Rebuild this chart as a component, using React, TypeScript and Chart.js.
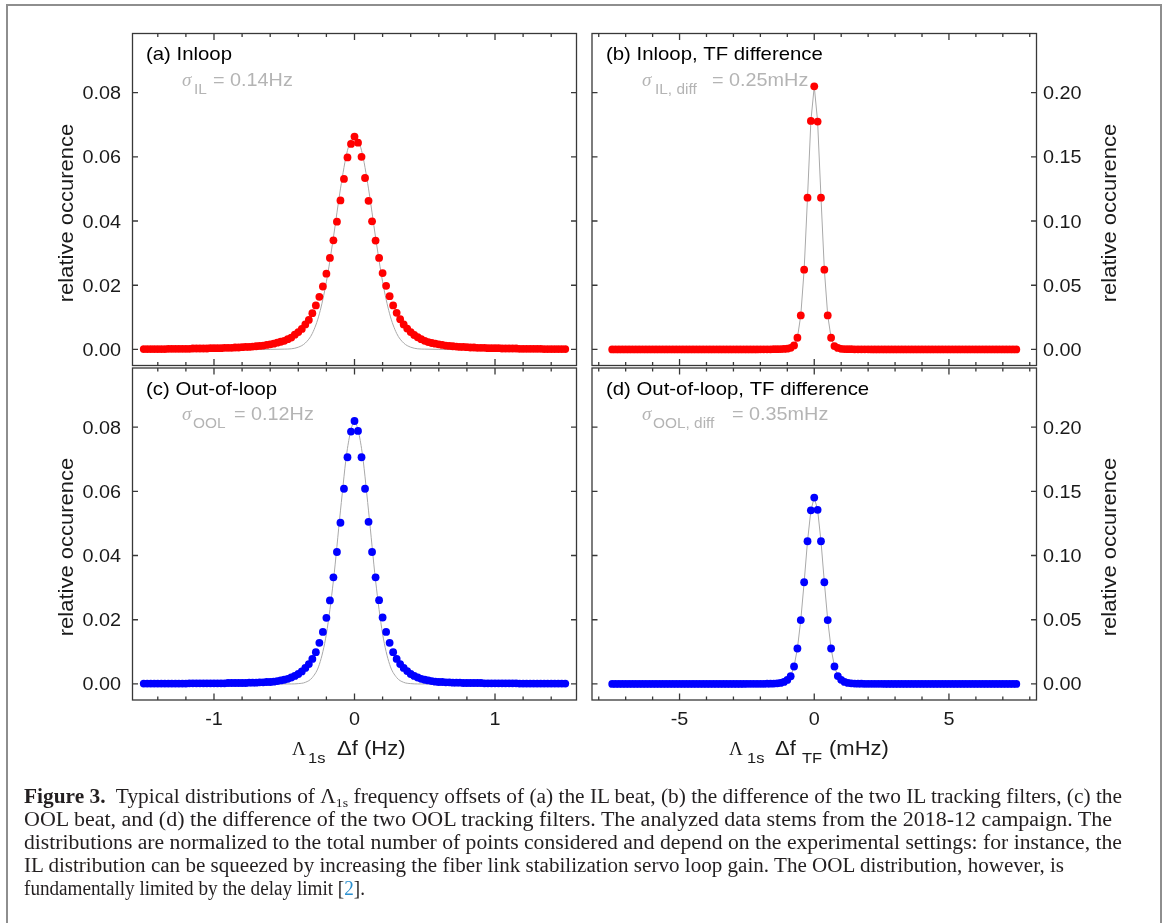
import React, { useEffect, useRef } from 'react';
import { Chart, registerables } from 'chart.js';

Chart.register(...registerables);

// ---------- histogram bin centres ----------
const binsHz = Array.from({ length: 121 }, (_, i) => -1.5 + i * 0.025);
const binsMHz = Array.from({ length: 121 }, (_, i) => -7.5 + i * 0.125);

// ---------- relative occurrence per bin ----------
// (a) inloop beat, bins -1.5 ... 1.5 Hz
const occIL = [
  0.0001, 0.0001, 0.0001, 0.0001, 0.0001, 0.0001, 0.0001, 0.0002, 0.0002, 0.0002,
  0.0002, 0.0002, 0.0002, 0.0002, 0.0003, 0.0003, 0.0003, 0.0003, 0.0003, 0.0004,
  0.0004, 0.0004, 0.0004, 0.0005, 0.0005, 0.0005, 0.0006, 0.0006, 0.0007, 0.0008,
  0.0008, 0.0009, 0.0010, 0.0011, 0.0012, 0.0014, 0.0016, 0.0018, 0.0021, 0.0024,
  0.0027, 0.0032, 0.0037, 0.0046, 0.0054, 0.0064, 0.0078, 0.0092, 0.0113, 0.0137,
  0.0164, 0.0196, 0.0236, 0.0285, 0.0340, 0.0398, 0.0464, 0.0531, 0.0598, 0.0640,
  0.0663,
  0.0644, 0.0600, 0.0534, 0.0463, 0.0399, 0.0339, 0.0285, 0.0238, 0.0198, 0.0166,
  0.0137, 0.0114, 0.0094, 0.0078, 0.0065, 0.0054, 0.0045, 0.0038, 0.0032, 0.0027,
  0.0023, 0.0020, 0.0018, 0.0016, 0.0014, 0.0012, 0.0011, 0.0010, 0.0009, 0.0008,
  0.0008, 0.0007, 0.0006, 0.0006, 0.0005, 0.0005, 0.0005, 0.0004, 0.0004, 0.0004,
  0.0004, 0.0003, 0.0003, 0.0003, 0.0003, 0.0003, 0.0002, 0.0002, 0.0002, 0.0002,
  0.0002, 0.0002, 0.0002, 0.0001, 0.0001, 0.0001, 0.0001, 0.0001, 0.0001, 0.0001,
];

// (b) inloop tracking-filter difference, bins -7.5 ... 7.5 mHz
const occILDiff = [
  0, 0, 0, 0, 0, 0, 0, 0,
  0, 0, 0, 0, 0, 0, 0, 0,
  0, 0, 0, 0, 0, 0, 0, 0,
  0, 0, 0, 0, 0, 0, 0, 0,
  0, 0, 0, 0, 0, 0, 0, 0,
  0, 0, 0, 0, 0.0001, 0.0001, 0.0001, 0.0001,
  0.0002, 0.0002, 0.0003, 0.0004, 0.0006, 0.0013, 0.0031, 0.0091,
  0.0265, 0.0621, 0.1182, 0.1779,
  0.2049,
  0.1774, 0.1182, 0.0621, 0.0265,
  0.0091, 0.0026, 0.0012, 0.0005, 0.0003, 0.0002, 0.0002, 0.0001,
  0.0001, 0.0001, 0.0001, 0.0001, 0, 0, 0, 0,
  0, 0, 0, 0, 0, 0, 0, 0,
  0, 0, 0, 0, 0, 0, 0, 0,
  0, 0, 0, 0, 0, 0, 0, 0,
  0, 0, 0, 0, 0, 0, 0, 0,
  0, 0, 0, 0, 0, 0, 0, 0,
];

// (c) out-of-loop beat, bins -1.5 ... 1.5 Hz
const occOOL = [
  0.0001, 0.0001, 0.0001, 0.0001, 0.0001, 0.0001, 0.0001, 0.0001, 0.0001, 0.0001,
  0.0001, 0.0001, 0.0001, 0.0002, 0.0002, 0.0002, 0.0002, 0.0002, 0.0002, 0.0002,
  0.0002, 0.0002, 0.0002, 0.0002, 0.0003, 0.0003, 0.0003, 0.0003, 0.0003, 0.0003,
  0.0004, 0.0004, 0.0004, 0.0005, 0.0005, 0.0006, 0.0006, 0.0007, 0.0009, 0.0011,
  0.0013, 0.0016, 0.0020, 0.0025, 0.0031, 0.0039, 0.0050, 0.0062, 0.0078, 0.0099,
  0.0128, 0.0162, 0.0206, 0.0260, 0.0332, 0.0411, 0.0502, 0.0608, 0.0706, 0.0786,
  0.0819,
  0.0788, 0.0706, 0.0608, 0.0505, 0.0411, 0.0332, 0.0261, 0.0207, 0.0162, 0.0128,
  0.0099, 0.0078, 0.0062, 0.0050, 0.0040, 0.0031, 0.0025, 0.0020, 0.0016, 0.0013,
  0.0011, 0.0009, 0.0007, 0.0006, 0.0006, 0.0005, 0.0005, 0.0004, 0.0004, 0.0004,
  0.0003, 0.0003, 0.0003, 0.0003, 0.0003, 0.0003, 0.0002, 0.0002, 0.0002, 0.0002,
  0.0002, 0.0002, 0.0002, 0.0002, 0.0002, 0.0002, 0.0001, 0.0001, 0.0001, 0.0001,
  0.0001, 0.0001, 0.0001, 0.0001, 0.0001, 0.0001, 0.0001, 0.0001, 0.0001, 0.0001,
];

// (d) out-of-loop tracking-filter difference, bins -7.5 ... 7.5 mHz
const occOOLDiff = [
  0, 0, 0, 0, 0, 0, 0, 0,
  0, 0, 0, 0, 0, 0, 0, 0,
  0, 0, 0, 0, 0, 0, 0, 0,
  0, 0, 0, 0, 0, 0, 0, 0,
  0, 0, 0, 0, 0, 0, 0, 0,
  0.0001, 0.0001, 0.0001, 0.0001, 0.0001, 0.0001, 0.0002, 0.0002,
  0.0003, 0.0005, 0.0008, 0.0016, 0.0031, 0.0060, 0.0136, 0.0276,
  0.0497, 0.0792, 0.1111, 0.1352,
  0.1451,
  0.1356, 0.1111, 0.0792, 0.0497,
  0.0276, 0.0136, 0.0061, 0.0032, 0.0016, 0.0008, 0.0005, 0.0003,
  0.0002, 0.0002, 0.0001, 0.0001, 0.0001, 0.0001, 0.0001, 0.0001,
  0, 0, 0, 0, 0, 0, 0, 0,
  0, 0, 0, 0, 0, 0, 0, 0,
  0, 0, 0, 0, 0, 0, 0, 0,
  0, 0, 0, 0, 0, 0, 0, 0,
  0, 0, 0, 0, 0, 0, 0, 0,
];

// ---------- Gaussian fits (sampled) ----------
const fitHzX = [-1.5, -0.7, -0.5, -0.45, -0.4, -0.35, -0.3, -0.25, -0.2, -0.15, -0.1, -0.05, 0,
  0.05, 0.1, 0.15, 0.2, 0.25, 0.3, 0.35, 0.4, 0.45, 0.5, 0.7, 1.5];
const fitIL = [0, 0, 0.0001, 0.0002, 0.0007, 0.0020, 0.0050, 0.0111, 0.0211, 0.0349, 0.0500, 0.0620, 0.0666,
  0.0620, 0.0500, 0.0349, 0.0211, 0.0111, 0.0050, 0.0020, 0.0007, 0.0002, 0.0001, 0, 0];
const fitOOL = [0, 0, 0, 0, 0.0001, 0.0005, 0.0020, 0.0061, 0.0156, 0.0322, 0.0539, 0.0734, 0.0815,
  0.0734, 0.0539, 0.0322, 0.0156, 0.0061, 0.0020, 0.0005, 0.0001, 0, 0, 0, 0];

// ---------- ticks ----------
const ticksHz = [-1, 0, 1];
const minorHz = [-1.4, -1.2, -0.8, -0.6, -0.4, -0.2, 0.2, 0.4, 0.6, 0.8, 1.2, 1.4];
const ticksMHz = [-5, 0, 5];
const minorMHz = [-8, -7, -6, -4, -3, -2, -1, 1, 2, 3, 4, 6, 7, 8];
const ticksOccHz = [0, 0.02, 0.04, 0.06, 0.08];
const ticksOccMHz = [0, 0.05, 0.1, 0.15, 0.2];

// ---------- styling ----------
const SANS = '"Liberation Sans", Arial, Helvetica, sans-serif';
const SERIF = '"Liberation Serif", "Times New Roman", serif';
const INK = '#1a1a1a';
const SOFT = '#b4b4b4';
const FRAME = '#383838';
const LINE_GRAY = '#a9a9a9';
const STRETCH = 1.1;

type Seg = { t: string; x: number; y: number; size: number; family?: string; italic?: boolean; sx?: number };

type PanelSpec = {
  id: string;
  origin: [number, number];
  size: [number, number];
  area: { l: number; t: number; r: number; b: number };
  xRange: [number, number];
  yRange: [number, number];
  bins: number[];
  occ: number[];
  dot: string;
  fitX?: number[];
  fitY?: number[];
  xMajor: number[];
  xMinor: number[];
  yMajor: number[];
  xTickLabels: boolean;
  yLabelSide: 'left' | 'right';
  label: Seg;
  sigma: Seg[];
  xTitle?: Seg[];
  yTitle: { x: number; y: number };
};

function put(ctx: CanvasRenderingContext2D, s: Seg, color: string, align: CanvasTextAlign = 'left') {
  ctx.save();
  ctx.font = `${s.italic ? 'italic ' : ''}${s.size}px ${s.family ?? SANS}`;
  ctx.fillStyle = color;
  ctx.textAlign = align;
  ctx.textBaseline = 'alphabetic';
  ctx.translate(s.x, s.y);
  ctx.scale(s.sx ?? STRETCH, 1);
  ctx.fillText(s.t, 0, 0);
  ctx.restore();
}

const panels: PanelSpec[] = [
  {
    id: 'a', origin: [0, 0], size: [584, 367],
    area: { l: 132.5, t: 33.5, r: 576.5, b: 365.5 },
    xRange: [-1.58, 1.58], yRange: [-0.005, 0.0984],
    bins: binsHz, occ: occIL, dot: '#ff0000', fitX: fitHzX, fitY: fitIL,
    xMajor: ticksHz, xMinor: minorHz, yMajor: ticksOccHz,
    xTickLabels: false, yLabelSide: 'left',
    label: { t: '(a) Inloop', x: 146, y: 60, size: 18.5 },
    sigma: [
      { t: 'σ', x: 182, y: 86, size: 19, family: SERIF, italic: true, sx: 1 },
      { t: 'IL', x: 194, y: 94, size: 14 },
      { t: '= 0.14Hz', x: 213, y: 86, size: 18 },
    ],
    yTitle: { x: 73, y: 213 },
  },
  {
    id: 'b', origin: [584, 0], size: [581, 367],
    area: { l: 592, t: 33.5, r: 1036.5, b: 365.5 },
    xRange: [-8.25, 8.25], yRange: [-0.0125, 0.246],
    bins: binsMHz, occ: occILDiff, dot: '#ff0000',
    xMajor: ticksMHz, xMinor: minorMHz, yMajor: ticksOccMHz,
    xTickLabels: false, yLabelSide: 'right',
    label: { t: '(b) Inloop, TF difference', x: 606, y: 60, size: 18.5 },
    sigma: [
      { t: 'σ', x: 642, y: 86, size: 19, family: SERIF, italic: true, sx: 1 },
      { t: 'IL, diff', x: 655, y: 94, size: 14 },
      { t: '= 0.25mHz', x: 712, y: 86, size: 18 },
    ],
    yTitle: { x: 1116, y: 213 },
  },
  {
    id: 'c', origin: [0, 367], size: [584, 413],
    area: { l: 132.5, t: 368, r: 576.5, b: 700 },
    xRange: [-1.58, 1.58], yRange: [-0.005, 0.0984],
    bins: binsHz, occ: occOOL, dot: '#0000ff', fitX: fitHzX, fitY: fitOOL,
    xMajor: ticksHz, xMinor: minorHz, yMajor: ticksOccHz,
    xTickLabels: true, yLabelSide: 'left',
    label: { t: '(c) Out-of-loop', x: 146, y: 395, size: 18.5 },
    sigma: [
      { t: 'σ', x: 182, y: 420, size: 19, family: SERIF, italic: true, sx: 1 },
      { t: 'OOL', x: 193, y: 428, size: 14 },
      { t: '= 0.12Hz', x: 234, y: 420, size: 18 },
    ],
    xTitle: [
      { t: 'Λ', x: 292, y: 755, size: 19, family: SERIF, sx: 1 },
      { t: '1s', x: 308, y: 763, size: 15 },
      { t: 'Δf (Hz)', x: 337, y: 755, size: 20 },
    ],
    yTitle: { x: 73, y: 547 },
  },
  {
    id: 'd', origin: [584, 367], size: [581, 413],
    area: { l: 592, t: 368, r: 1036.5, b: 700 },
    xRange: [-8.25, 8.25], yRange: [-0.0125, 0.246],
    bins: binsMHz, occ: occOOLDiff, dot: '#0000ff',
    xMajor: ticksMHz, xMinor: minorMHz, yMajor: ticksOccMHz,
    xTickLabels: true, yLabelSide: 'right',
    label: { t: '(d) Out-of-loop, TF difference', x: 606, y: 395, size: 18.5 },
    sigma: [
      { t: 'σ', x: 642, y: 420, size: 19, family: SERIF, italic: true, sx: 1 },
      { t: 'OOL, diff', x: 653, y: 428, size: 14 },
      { t: '= 0.35mHz', x: 732, y: 420, size: 18 },
    ],
    xTitle: [
      { t: 'Λ', x: 729, y: 755, size: 19, family: SERIF, sx: 1 },
      { t: '1s', x: 747, y: 763, size: 15 },
      { t: 'Δf', x: 775, y: 755, size: 20 },
      { t: 'TF', x: 802, y: 763, size: 15 },
      { t: '(mHz)', x: 829, y: 755, size: 20 },
    ],
    yTitle: { x: 1116, y: 547 },
  },
];

// Frame, inward ticks and all annotation text, drawn in page coordinates
function framePlugin(spec: PanelSpec) {
  return {
    id: 'frame-' + spec.id,
    afterDraw(chart: any) {
      const ctx: CanvasRenderingContext2D = chart.ctx;
      const xs = chart.scales.x;
      const ys = chart.scales.y;
      const { left, right, top, bottom } = chart.chartArea;
      const [ox, oy] = spec.origin;
      ctx.save();
      ctx.strokeStyle = FRAME;
      ctx.lineWidth = 1.3;
      ctx.strokeRect(left, top, right - left, bottom - top);
      ctx.beginPath();
      const xt = (v: number, len: number) => {
        const p = xs.getPixelForValue(v);
        ctx.moveTo(p, bottom); ctx.lineTo(p, bottom - len);
        ctx.moveTo(p, top); ctx.lineTo(p, top + len);
      };
      spec.xMajor.forEach((v) => xt(v, 6.5));
      spec.xMinor.forEach((v) => xt(v, 3.5));
      spec.yMajor.forEach((v) => {
        const p = ys.getPixelForValue(v);
        ctx.moveTo(left, p); ctx.lineTo(left + 5.5, p);
        ctx.moveTo(right, p); ctx.lineTo(right - 5.5, p);
      });
      ctx.stroke();

      ctx.translate(-ox, -oy);
      // y tick labels
      spec.yMajor.forEach((v) => {
        const p = ys.getPixelForValue(v) + oy;
        if (spec.yLabelSide === 'left') {
          put(ctx, { t: v.toFixed(2), x: left + ox - 11.5, y: p + 6.5, size: 18 }, INK, 'right');
        } else {
          put(ctx, { t: v.toFixed(2), x: right + ox + 6.5, y: p + 6.5, size: 18 }, INK, 'left');
        }
      });
      // x tick labels
      if (spec.xTickLabels) {
        spec.xMajor.forEach((v) => {
          const p = xs.getPixelForValue(v) + ox;
          put(ctx, { t: String(v), x: p, y: 725, size: 18 }, INK, 'center');
        });
      }
      // panel label and width annotation
      put(ctx, spec.label, '#000');
      spec.sigma.forEach((s) => put(ctx, s, SOFT));
      if (spec.xTitle) spec.xTitle.forEach((s) => put(ctx, s, INK));
      // y axis title
      ctx.save();
      ctx.translate(spec.yTitle.x, spec.yTitle.y);
      ctx.rotate(-Math.PI / 2);
      ctx.scale(STRETCH, 1);
      ctx.font = `20px ${SANS}`;
      ctx.fillStyle = INK;
      ctx.textAlign = 'center';
      ctx.textBaseline = 'alphabetic';
      ctx.fillText('relative occurence', 0, 0);
      ctx.restore();
      ctx.restore();
    },
  };
}

function Panel({ spec }: { spec: PanelSpec }) {
  const ref = useRef<HTMLCanvasElement>(null);
  const [ox, oy] = spec.origin;
  const [w, h] = spec.size;
  useEffect(() => {
    const canvas = ref.current;
    if (!canvas) return;
    const datasets: any[] = [
      {
        data: spec.bins.map((x, i) => ({ x, y: spec.occ[i] })),
        showLine: !spec.fitX,
        borderColor: LINE_GRAY,
        borderWidth: 1,
        pointRadius: 3.9,
        pointHoverRadius: 3.9,
        pointBackgroundColor: spec.dot,
        pointBorderWidth: 0,
        order: 0,
      },
    ];
    if (spec.fitX && spec.fitY) {
      datasets.push({
        data: spec.fitX.map((x, i) => ({ x, y: spec.fitY![i] })),
        showLine: true,
        borderColor: LINE_GRAY,
        borderWidth: 1,
        pointRadius: 0,
        cubicInterpolationMode: 'monotone',
        order: 1,
      });
    }
    const chart = new Chart(canvas, {
      type: 'scatter',
      data: { datasets },
      options: {
        animation: false,
        responsive: false,
        events: [],
        layout: {
          autoPadding: false,
          padding: {
            left: spec.area.l - ox,
            top: spec.area.t - oy,
            right: ox + w - spec.area.r,
            bottom: oy + h - spec.area.b,
          },
        },
        scales: {
          x: { type: 'linear', min: spec.xRange[0], max: spec.xRange[1], display: false },
          y: { type: 'linear', min: spec.yRange[0], max: spec.yRange[1], display: false },
        },
        plugins: { legend: { display: false }, tooltip: { enabled: false } },
      } as any,
      plugins: [framePlugin(spec)],
    });
    return () => chart.destroy();
  }, [spec]);
  return (
    <canvas
      ref={ref}
      width={w}
      height={h}
      style={{ position: 'absolute', left: ox, top: oy, width: w, height: h }}
    />
  );
}

const captionLines = [
  'OOL beat, and (d) the difference of the two OOL tracking filters. The analyzed data stems from the 2018-12 campaign. The',
  'distributions are normalized to the total number of points considered and depend on the experimental settings: for instance, the',
  'IL distribution can be squeezed by increasing the fiber link stabilization servo loop gain. The OOL distribution, however, is',
];

export default function App() {
  return (
    <div style={{ position: 'absolute', left: 0, top: 0, width: 1165, height: 923, overflow: 'hidden', background: '#fff' }}>
      <div
        style={{
          position: 'absolute', left: 6, top: 4, width: 1156, height: 960,
          border: '2px solid #8e8e8e', boxSizing: 'border-box',
        }}
      />
      {panels.map((p) => (
        <Panel key={p.id} spec={p} />
      ))}
      <svg
        width={1165}
        height={153}
        style={{ position: 'absolute', left: 0, top: 770 }}
        fontFamily={SERIF}
        fontSize={20}
        fill="#231f20"
      >
        <text x={24} y={33} textLength={1098} lengthAdjust="spacingAndGlyphs" style={{ whiteSpace: 'pre' }}>
          <tspan fontWeight="bold">Figure 3.</tspan>
          <tspan>{'  Typical distributions of Λ'}</tspan>
          <tspan fontSize={13} dy={4}>1s</tspan>
          <tspan dy={-4}>{' frequency offsets of (a) the IL beat, (b) the difference of the two IL tracking filters, (c) the'}</tspan>
        </text>
        <text x={24} y={56} textLength={1088} lengthAdjust="spacingAndGlyphs">{captionLines[0]}</text>
        <text x={24} y={79} textLength={1098} lengthAdjust="spacingAndGlyphs">{captionLines[1]}</text>
        <text x={24} y={102} textLength={1040} lengthAdjust="spacingAndGlyphs">{captionLines[2]}</text>
        <text x={24} y={125} textLength={341} lengthAdjust="spacingAndGlyphs">
          <tspan>{'fundamentally limited by the delay limit ['}</tspan>
          <tspan fill="#2a8fd0">2</tspan>
          <tspan>].</tspan>
        </text>
      </svg>
    </div>
  );
}
